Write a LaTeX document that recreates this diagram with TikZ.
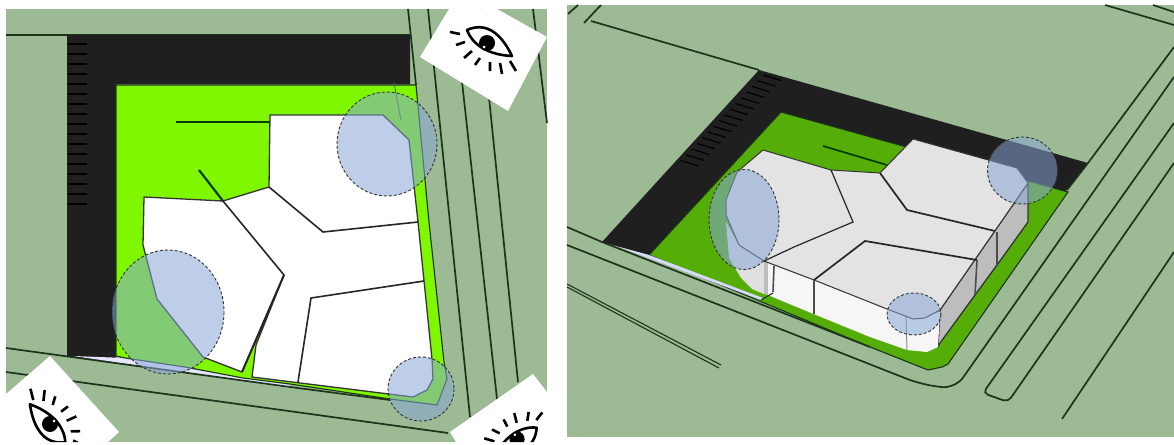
\documentclass[tikz,border=0pt]{standalone}
\definecolor{csage}{HTML}{9CBB94}
\definecolor{clime}{HTML}{7EF700}
\definecolor{cgrass}{HTML}{55AE08}
\definecolor{casphalt}{HTML}{1F1F1F}
\definecolor{cline}{HTML}{1C331C}
\definecolor{cblue}{HTML}{87A5D6}
\definecolor{croof}{HTML}{E3E3E3}
\definecolor{cwall}{HTML}{F6F6F6}
\definecolor{cside}{HTML}{BDBDBD}
\tikzset{
  panel/.style={fill=csage},
  road/.style={draw=cline, line width=1.7pt},
  asphalt/.style={fill=casphalt},
  plot/.style={fill=#1, draw=cline, line width=1.1pt},
  wing/.style={fill=#1, draw=black!80, line width=1.3pt, line join=round},
  wing/.default=white,
  ridge/.style={draw=black!85, line width=1.6pt},
  hedge/.style={draw=black!60!green!60!black, line width=1.7pt},
  lens/.style={fill=cblue, fill opacity=0.54, draw=black!80, line width=0.9pt, densely dashed},
  card/.style={fill=white},
  eyemark/.pic={
    \draw[line width=2.6pt, line join=round] (-20,-13) .. controls (0,-22) and (15,-8) .. (25,13)
      .. controls (3,12) and (-14,3) .. cycle;
    \fill (0,0) circle (8);
    \fill[white] (-3,4) circle (1.5);
    \draw[line width=2.6pt] (-37,-11) -- (-27,-9) (-31,2) -- (-22,-1) (-23,15) -- (-15,8)
      (-12,22) -- (-7,15) (3,28) -- (3,19) (15,31) -- (13,20) (29,28) -- (23,18);
  },
}
\begin{document}
\begin{tikzpicture}[x=1pt, y=-1pt]
  \useasboundingbox (0,0) rectangle (1174,444);
  % left panel, plan
  \fill[panel] (6,9) rectangle (547,442);
  \draw[road] (6,35) -- (410,35);
  \fill[asphalt] (67,35) -- (410,35) -- (410,84) -- (116,84) -- (116,362) -- (67,356) -- cycle;
  \foreach \y in {44,54,...,204} \draw[black, line width=1.2pt] (68,\y) -- (87,\y);
  \fill[white!90!blue] (73,356) -- (125,358) -- (290,385) -- (290,388) -- cycle;
  \draw[plot=clime] (116,85) -- (416,85) -- (429,222) -- (444,362) -- (447,379) -- (437,405)
    -- (390,399) -- (290,384) -- (243,378) -- (185,367) -- (125,358) -- (116,356) -- cycle;
  \draw[road] (408,9) -- (416,85);
  \draw[road] (428,9) -- (470,417);
  \draw[road] (454,9) -- (497,399);
  \draw[road] (480,9) -- (518,382);
  \draw[road] (533,9) -- (547,123);
  \draw[road] (6,348) -- (290,387) -- (390,400);
  \draw[road] (6,372) -- (448,433);
  % left panel, building
  \draw[wing] (144,197) -- (223,201) -- (269,187) -- (270,115) -- (383,115) -- (409,140) -- (418,222)
    -- (432,359) -- (433,379) -- (427,390) -- (413,397) -- (252,377) -- (256,345) -- (284,275)
    -- (242,372) -- (203,357) -- (157,299) -- (143,245) -- cycle;
  \draw[ridge] (269,187) -- (323,232) -- (418,222);
  \draw[ridge] (223,201) -- (284,275);
  \draw[ridge, line width=2pt] (284,275) -- (242,372);
  \draw[ridge] (424,281) -- (311,298) -- (298,382);
  \draw[hedge] (176,122) -- (270,122);
  \draw[hedge, line width=2.2pt] (199,170) -- (223,201);
  \draw[cline!60!csage, line width=0.9pt] (394,83) -- (401,120);
  \draw[lens] (387,144) ellipse [x radius=50, y radius=52];
  \draw[lens] (168,312) ellipse [x radius=56, y radius=62];
  \draw[lens] (421,389) ellipse [x radius=33, y radius=32];
  % eye cards
  \begin{scope}
    \clip (420,57) -- (449,9) -- (497,9) -- (547,37) -- (508,111) -- cycle;
    \fill[card] (400,0) rectangle (550,120);
    \pic at (487,43) {eyemark};
  \end{scope}
  \begin{scope}
    \clip (6,394) -- (50,356) -- (119,432) -- (108,442) -- (6,442) -- cycle;
    \fill[card] (0,350) rectangle (125,444);
    \pic[rotate=-197] at (50,424) {eyemark};
  \end{scope}
  \begin{scope}
    \clip (450,432) -- (533,374) -- (547,392) -- (547,442) -- (456,442) -- cycle;
    \fill[card] (445,370) rectangle (550,444);
    \pic[rotate=-117, scale=0.95] at (517,439) {eyemark};
  \end{scope}
  % right panel, perspective
  \fill[panel] (567,5) rectangle (1174,437);
  \draw[road] (568,14) -- (578,5);
  \draw[road] (584,23) -- (601,5);
  \draw[road] (591,21) -- (759,70);
  \draw[road] (1105,5) -- (1174,25);
  \draw[road] (1153,5) -- (1174,12);
  \fill[asphalt] (759,70) -- (1088,163) -- (1065,192) -- (781,112) -- (649,255) -- (602,242) -- cycle;
  \foreach \i in {0,...,15} \draw[black, line width=1.2pt] (763-5.5*\i,75+5.7*\i) -- ++(18,5.5);
  \draw[road] (1174,47) -- (1088,163) -- (1067,190);
  \draw[plot=cgrass] (781,112) -- (1068,192) -- (948,364) -- (942,367) -- (928,370) -- (870,347)
    -- (649,255) -- cycle;
  \fill[white!85!blue] (619,247) -- (649,255) -- (763,298) -- (761,300) -- cycle;
  \draw[road] (567,227) -- (602,242) -- (870,347);
  \draw[road, rounded corners=14pt] (1174,77) -- (955,389) -- (920,384) -- (567,245);
  \draw[road, rounded corners=5pt] (1174,123) -- (983,393) -- (1008,402) -- (1174,163);
  \draw[road] (1174,252) -- (1062,419);
  \draw[road, line width=1.1pt] (567,284) -- (721,365);
  \draw[road, line width=1.1pt] (567,287) -- (719,368);
  % right panel, building
  \draw[wing=cside] (1028,183) -- (1028,222) -- (997,265) -- (975,295) -- (940,343) -- (938,347) -- (940,310) -- cycle;
  \fill[white!88!black] (739,245) -- (764,261) -- (764,294) -- (752,289) -- (741,278) -- (729,258) -- (726,222) -- cycle;
  \fill[cside] (764,261) -- (768,263) -- (768,295) -- (764,294) -- cycle;
  \draw[wing=cwall, draw=none] (768,263) -- (814,280) -- (870,300) -- (906,317) -- (940,312) -- (938,347)
    -- (927,352) -- (907,350) -- (870,337) -- (816,315) -- (775,298) -- (768,295) -- cycle;
  \draw[wing=croof, line width=1pt] (763,150) -- (831,170) -- (880,173) -- (913,139) -- (1017,168) -- (1028,183) -- (940,310)
    -- (925,318) -- (913,319) -- (887,309) -- (814,280) -- (764,261) -- (739,245) -- (726,215) -- (726,200)
    -- (737,172) -- cycle;
  \draw[ridge, line width=1.2pt] (831,170) -- (853,222) -- (794,247) -- (764,261);
  \draw[ridge, line width=1.7pt] (814,280) -- (865,241) -- (977,260);
  \draw[ridge, line width=1.7pt] (880,173) -- (907,210) -- (995,231);
  \draw[ridge, black!70] (814,280) -- (814,314);
  \draw[ridge, black!70] (774,266) -- (773,292);
  \draw[ridge, black!70] (977,260) -- (975,295);
  \draw[ridge, black!70] (997,232) -- (997,265);
  \draw[ridge, black!45, line width=1pt] (906,317) -- (907,350);
  \draw[road, line width=1.1pt] (761,300) -- (773,293);
  \draw[hedge] (823,146) -- (887,165);
  \draw[lens] (744,219.5) ellipse [x radius=35, y radius=50];
  \draw[lens] (1022.5,170.5) ellipse [x radius=35, y radius=33.5];
  \draw[lens] (914,314) ellipse [x radius=27, y radius=21];
\end{tikzpicture}
\end{document}
